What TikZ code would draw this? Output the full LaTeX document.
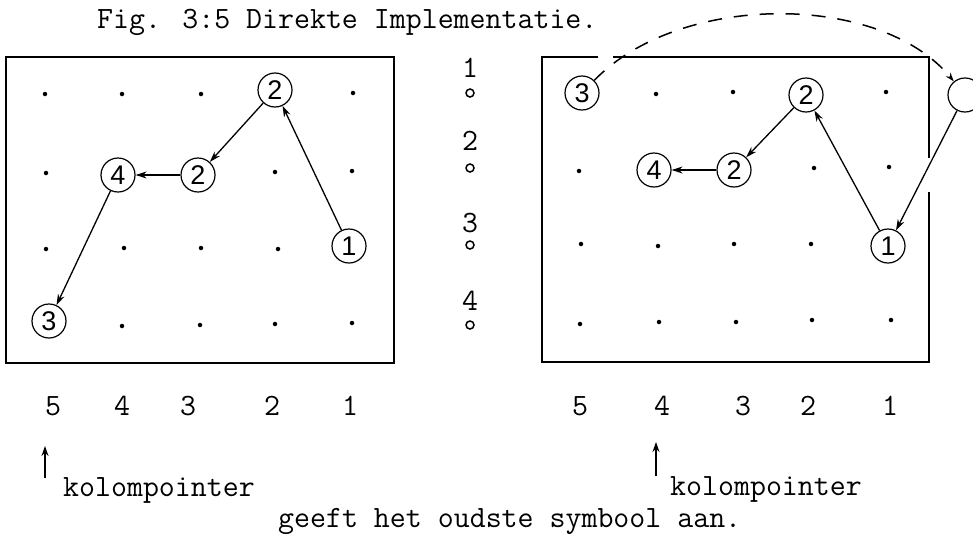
\documentclass[tikz,border=0pt]{standalone}
\usepackage{fontspec}
\newfontfamily\hwfont{Liberation Sans}
\usetikzlibrary{arrows.meta}
\tikzset{
  cnode/.style={circle, draw, line width=1.2pt, minimum size=34pt, inner sep=0pt,
    font=\hwfont\fontsize{27}{27}\selectfont},
  gdot/.style={circle, fill, inner sep=0pt, minimum size=4.5pt},
  frame/.style={line width=1.9pt},
  link/.style={line width=1.3pt, -{Stealth[length=11pt,width=7pt]}},
  typed/.style={font=\ttfamily\fontsize{31}{34}\selectfont, inner sep=0pt},
  ring/.style={circle, draw, line width=1.5pt, minimum size=8pt, inner sep=0pt},
  dashlink/.style={line width=1.5pt, dash pattern=on 14pt off 12pt, -{Stealth[length=9pt,width=6pt]}},
  pointer/.style={line width=1.5pt, -{Stealth[length=10pt,width=7pt]}},
}
\begin{document}
\begin{tikzpicture}[x=1pt,y=-1pt]
\useasboundingbox (0,0) rectangle (973,533);
\clip (0,0) rectangle (973,533);

% title
\node[typed, anchor=base west] (title) at (97,28) {Fig. 3:5 Direkte Implementatie.};

% ---------- left frame ----------
\draw[frame] (6,57) rectangle (394,363);
\foreach \x/\y [count=\i] in {45/94,122/94,201/94,353/93,
  46/173,275/172,352/171,
  46/249,124/248,201/248,278/249,
  122/326,200/325,275/324,352/323}
  \node[gdot] (ld\i) at (\x,\y) {};
\node[cnode] (L2a) at (275,90) {2};
\node[cnode] (L2b) at (198,175) {2};
\node[cnode] (L4) at (118,175) {4};
\node[cnode] (L1) at (349,246) {1};
\node[cnode] (L3) at (49,321) {3};
\draw[link] (L1) -- (L2a);
\draw[link] (L2a) -- (L2b);
\draw[link] (L2b) -- (L4);
\draw[link] (L4) -- (L3);

% ---------- middle column ----------
\node[typed, anchor=base] (m1) at (470,77) {1};
\node[typed, anchor=base] (m2) at (470,150) {2};
\node[typed, anchor=base] (m3) at (470,232) {3};
\node[typed, anchor=base] (m4) at (470,310) {4};
\node[ring] (r1) at (470,93) {};
\node[ring] (r2) at (470,168) {};
\node[ring] (r3) at (470,245) {};
\node[ring] (r4) at (470,325) {};

% ---------- right frame (with gaps) ----------
\coordinate (t1) at (598,57);
\coordinate (t2) at (613,57);
\coordinate (s1) at (929,158);
\coordinate (s2) at (929,192);
\draw[frame] (t1) -- (542,57) -- (542,362) -- (929,362) -- (s2);
\draw[frame] (t2) -- (929,57) -- (s1);
\foreach \x/\y [count=\i] in {656/94,733/92,886/92,
  579/171,814/168,889/167,
  581/244,658/246,734/244,811/244,
  580/324,659/322,736/322,812/320,891/320}
  \node[gdot] (rd\i) at (\x,\y) {};
\node[cnode] (R3) at (582,93) {3};
\node[cnode] (R2a) at (806,95) {2};
\node[cnode] (R2b) at (734,170) {2};
\node[cnode] (R4) at (654,170) {4};
\node[cnode] (R1) at (888,246) {1};
\node[cnode] (RE) at (965,95) {};
\draw[dashlink] (R3) .. controls (680,-8) and (880,-8) .. (RE);
\draw[link] (RE) -- (R1);
\draw[link] (R1) -- (R2a);
\draw[link] (R2a) -- (R2b);
\draw[link] (R2b) -- (R4);

% ---------- column numbers ----------
\foreach \x/\t [count=\i] in {53/5,122/4,188/3,272/2,350/1}
  \node[typed, anchor=base] (lc\i) at (\x,415) {\t};
\foreach \x/\t [count=\i] in {580/5,662/4,743/3,808/2,890/1}
  \node[typed, anchor=base] (rc\i) at (\x,415) {\t};

% ---------- pointers ----------
\coordinate (pa1) at (45,478);
\coordinate (pa2) at (45,446);
\coordinate (pb1) at (656,476);
\coordinate (pb2) at (656,442);
\draw[pointer] (pa1) -- (pa2);
\draw[pointer] (pb1) -- (pb2);
\node[typed, anchor=base west] (kl) at (63,496) {kolompointer};
\node[typed, anchor=base west] (kr) at (670,495) {kolompointer};
\node[typed, anchor=base west] (note) at (278,527) {geeft het oudste symbool aan.};
\end{tikzpicture}
\end{document}
